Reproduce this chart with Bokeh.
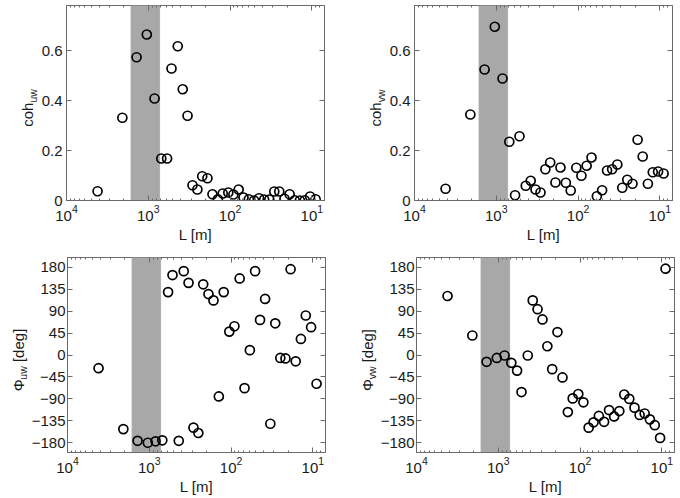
import math
from bokeh.plotting import figure
from bokeh.models import (Range1d, FixedTicker, LogAxis, LinearAxis, BoxAnnotation,
                          CustomJSTickFormatter, ColumnDataSource)
from bokeh.core.properties import value
from bokeh.layouts import column, row
from bokeh.embed import file_html
from bokeh.resources import INLINE

# ---------------- data ----------------
L = [4170, 2075, 1390, 1042, 838, 693, 589, 520, 436, 379, 331, 288, 251, 219, 189,
     164, 141, 123, 105, 91, 78.5, 68.4, 58.9, 50.8, 44.2, 38.3, 33.1, 28.8, 25.0,
     21.6, 18.7, 16.2, 14.0, 12.2, 10.5, 9.0]

coh_uw = [0.037, 0.331, 0.573, 0.664, 0.408, 0.168, 0.168, 0.528, 0.617, 0.445, 0.339,
          0.061, 0.044, 0.097, 0.089, 0.025, 0.005, 0.028, 0.032, 0.024, 0.044, 0.012,
          0.005, 0.0, 0.009, 0.004, 0.004, 0.036, 0.036, 0.007, 0.025, 0.001, 0.0,
          0.001, 0.016, 0.005]

coh_vw = [0.047, 0.344, 0.524, 0.695, 0.488, 0.235, 0.021, 0.257, 0.059, 0.079, 0.044,
          0.032, 0.125, 0.152, 0.072, 0.132, 0.071, 0.040, 0.131, 0.099, 0.139, 0.172,
          0.017, 0.041, 0.120, 0.125, 0.144, 0.051, 0.083, 0.067, 0.243, 0.176, 0.067,
          0.113, 0.116, 0.108]

phi_uw = [-27, -152, -176, -180, -177, -175, 129, 164, -176, 172, 148, -149, -160, 145,
          125, 112, -85, 129, 48, 59, 157, -68, 10, 172, 72, 115, -141, 65, -6, -7, 176,
          -13, 33, 81, 57, -59]

phi_vw = [121, 40, -14, -6, -1, -16, -32, -76, -1, 112, 94, 73, 18, -29, 47, -46, -117,
          -89, -80, -97, -149, -138, -125, -137, -113, -126, -115, -81, -90, -108, -123,
          -120, -132, -144, -170, 177]

band_L = [720, 1640]          # shaded wavelength band [m]
x_lim = [10000, 7]            # reversed log axis
x_major = [10, 100, 1000, 10000]
coh_lim = [0, 0.78]
coh_ticks = [0, 0.2, 0.4, 0.6]
phi_lim = [-200, 200]
phi_ticks = [-180, -135, -90, -45, 0, 45, 90, 135, 180]
x_label = "L [m]"

# ---------------- style ----------------
FONT = "Liberation Sans"
AX = "#6a6a6a"
TXT = "#1a1a1a"
FW, FH = 258, 195

x_minor = [k * 10 ** e for e in range(0, 4) for k in range(2, 10) if k * 10 ** e >= 7]

src = ColumnDataSource(dict(L=L, coh_uw=coh_uw, coh_vw=coh_vw, phi_uw=phi_uw, phi_vw=phi_vw))

blank = CustomJSTickFormatter(code="return ''")


def make(col, ylim, yticks, lb, rb, tb, bb, standoff):
    p = figure(x_axis_type="log", x_range=Range1d(*x_lim), y_range=Range1d(*ylim),
               frame_width=FW, frame_height=FH, output_backend="svg",
               toolbar_location=None, min_border_left=lb, min_border_right=rb,
               min_border_top=tb, min_border_bottom=bb)
    p.grid.visible = False
    p.outline_line_color = AX
    p.outline_line_width = 1
    p.background_fill_color = "white"

    p.add_layout(BoxAnnotation(left=band_L[0], right=band_L[1], fill_color="#a8a8a8",
                               fill_alpha=1.0, line_color="#c6c6c6", line_width=1,
                               level="underlay"))

    p.scatter(x="L", y=col, source=src, marker="circle", size=9, fill_color=None,
              line_color="black", line_width=1.7)

    xa = p.xaxis[0]
    xa.ticker = FixedTicker(ticks=x_major, minor_ticks=x_minor)
    ya = p.yaxis[0]
    ya.ticker = FixedTicker(ticks=yticks)
    if ylim[1] < 1:
        ya.major_label_overrides = {0: "0"}
    for a in (xa, ya):
        a.axis_line_color = AX
        a.major_tick_line_color = AX
        a.minor_tick_line_color = AX
        a.major_tick_in = 5
        a.major_tick_out = 0
        a.minor_tick_in = 2
        a.minor_tick_out = 0
        a.major_label_text_font = FONT
        a.major_label_text_font_size = "15px"
        a.major_label_text_color = TXT
    xa.major_label_standoff = 4
    ya.major_label_standoff = standoff
    xa.axis_label = x_label
    xa.axis_label_text_font = FONT
    xa.axis_label_text_font_size = "15px"
    xa.axis_label_text_font_style = "normal"
    xa.axis_label_text_color = TXT
    xa.axis_label_standoff = 2

    top = LogAxis(ticker=FixedTicker(ticks=x_major, minor_ticks=x_minor), formatter=blank,
                  axis_line_color=None, major_tick_line_color=AX, minor_tick_line_color=AX,
                  major_tick_in=5, major_tick_out=0, minor_tick_in=2, minor_tick_out=0,
                  major_label_standoff=0, major_label_text_font_size="1px")
    p.add_layout(top, "above")
    right = LinearAxis(ticker=FixedTicker(ticks=yticks), formatter=blank,
                       axis_line_color=None, major_tick_line_color=AX,
                       major_tick_in=5, major_tick_out=0, minor_tick_line_color=None,
                       major_label_standoff=0, major_label_text_font_size="1px")
    p.add_layout(right, "right")
    return p


def ylabel_fig(parts, width, tb, bb, xb, sub_shift):
    """Narrow figure carrying the rotated y label (main text, subscript, tail)."""
    H = tb + FH + bb
    f = figure(x_range=Range1d(0, width), y_range=Range1d(0, H), frame_width=width,
               frame_height=H, output_backend="svg", toolbar_location=None,
               x_axis_location=None, y_axis_location=None, min_border=0)
    f.grid.visible = False
    f.outline_line_color = None
    total = sum(w for _, _, w in parts)
    y = bb + FH / 2 - total / 2
    for txt, kind, w in parts:
        if txt:
            f.text(x=[xb + (sub_shift if kind == "sub" else 0)], y=[y], text=[txt],
                   angle=math.pi / 2, text_align="left", text_baseline="alphabetic",
                   text_font=value(FONT),
                   text_font_size="10.5px" if kind == "sub" else "15px",
                   text_color=TXT)
        y += w
    return f


lab_coh_uw = [("coh", "main", 24.2), ("uw", "sub", 13.4)]
lab_coh_vw = [("coh", "main", 24.2), ("vw", "sub", 12.8)]
lab_phi_uw = [("Φ", "main", 11.7), ("uw", "sub", 13.4), ("", "gap", 4.2),
              ("[deg]", "main", 33.4)]
lab_phi_vw = [("Φ", "main", 11.7), ("vw", "sub", 12.8), ("", "gap", 4.2),
              ("[deg]", "main", 33.4)]

T1, B1 = 5, 52
T2, B2 = 5, 42

l1 = ylabel_fig(lab_coh_uw, 38, T1, B1, 27, 5)
p1 = make("coh_uw", coh_lim, coh_ticks, 28, 24, T1, B1, 4)
l2 = ylabel_fig(lab_coh_vw, 38, T1, B1, 27, 5)
p2 = make("coh_vw", coh_lim, coh_ticks, 28, 4, T1, B1, 4)

l3 = ylabel_fig(lab_phi_uw, 28, T2, B2, 18, 4)
p3 = make("phi_uw", phi_lim, phi_ticks, 38, 24, T2, B2, 2)
l4 = ylabel_fig(lab_phi_vw, 28, T2, B2, 18, 4)
p4 = make("phi_vw", phi_lim, phi_ticks, 38, 4, T2, B2, 2)

layout = column(row(l1, p1, l2, p2, spacing=0), row(l3, p3, l4, p4, spacing=0), spacing=0)

open("out.html", "w").write(file_html(layout, INLINE))
